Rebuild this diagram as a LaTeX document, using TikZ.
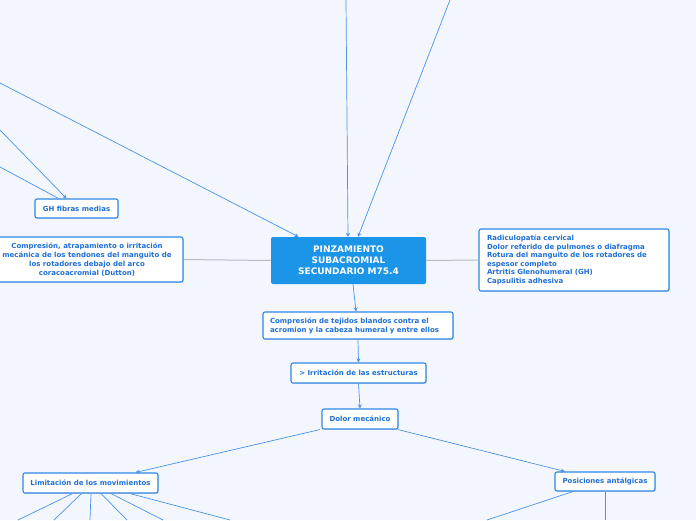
\documentclass[tikz,border=0pt]{standalone}
\usepackage{fontspec}
\setmainfont{DejaVu Sans}
\usetikzlibrary{arrows.meta,shadows}
\definecolor{bg}{HTML}{F3F6FD}
\definecolor{txt}{HTML}{1E6FD6}
\definecolor{bord}{HTML}{2E86E4}
\definecolor{conn}{HTML}{4A93E8}
\definecolor{gline}{HTML}{B4BCC6}
\definecolor{cfill}{HTML}{1B95E8}
\tikzset{
  topic/.style={draw=bord, line width=1.1pt, fill=white, rounded corners=2pt,
    font=\bfseries\fontsize{7}{9}\selectfont, text=txt, inner sep=0pt,
    drop shadow={shadow xshift=0.6pt, shadow yshift=-0.8pt, opacity=0.25, fill=gray}},
  central/.style={fill=cfill, rounded corners=2pt, text=white, inner sep=0pt,
    font=\bfseries\fontsize{9}{11}\selectfont, align=center},
  conn/.style={draw=conn, line width=0.7pt},
  arr/.style={conn, -{Stealth[length=4pt,width=4pt]}},
  gl/.style={draw=gline, line width=1pt}
}
\begin{document}
\begin{tikzpicture}[x=1pt,y=-1pt]
\fill[bg] (0,0) rectangle (696,520);
\useasboundingbox (0,0) rectangle (696,520);
\clip (0,0) rectangle (696,520);

% nodes
\node[central, minimum width=155pt, minimum height=47pt] (c) at (348.5,260.5)
  {PINZAMIENTO\\SUBACROMIAL\\SECUNDARIO M75.4};
\node[topic, minimum width=192pt, minimum height=45pt, align=center] (l) at (87,259.5)
  {Compresión, atrapamiento o irritación\\mecánica de los tendones del manguito de\\los rotadores debajo del arco\\coracoacromial (Dutton)};
\node[topic, minimum width=83pt, minimum height=19pt] (gh) at (76.5,208.5) {GH fibras medias};
\node[topic, minimum width=190pt, minimum height=62pt, text width=174pt, align=left, font=\bfseries\fontsize{7}{8.6}\selectfont] (r) at (574,260)
  {Radiculopatía cervical\\Dolor referido de pulmones o diafragma\\Rotura del manguito de los rotadores de\\espesor completo\\Artritis Glenohumeral (GH)\\Capsulitis adhesiva};
\node[topic, minimum width=190pt, minimum height=27pt, text width=176pt, align=left] (ct) at (358,325.5)
  {Compresión de tejidos blandos contra el\\acromion y la cabeza humeral y entre ellos};
\node[topic, minimum width=135pt, minimum height=20pt] (irr) at (358.5,373) {> Irritación de las estructuras};
\node[topic, minimum width=76pt, minimum height=20pt] (dm) at (360,419) {Dolor mecánico};
\node[topic, minimum width=135pt, minimum height=20pt] (lim) at (90.5,483) {Limitación de los movimientos};
\node[topic, minimum width=100pt, minimum height=19pt] (pos) at (605,481.5) {Posiciones antálgicas};

% free ends
\coordinate (t1) at (346,0);
\coordinate (t2) at (450,0);
\coordinate (t3) at (0,83);
\coordinate (t4) at (0,130);
\coordinate (t5) at (0,167);
\coordinate (b1) at (18,520);
\coordinate (b2) at (54,520);
\coordinate (b3) at (90,520);
\coordinate (b4) at (127,520);
\coordinate (b5) at (163,520);
\coordinate (b6) at (230,520);
\coordinate (b7) at (487,520);
\coordinate (b8) at (605,520);

% connectors
\draw[arr] (t1) -- ([xshift=-0.5pt]c.north);
\draw[arr] (t2) -- ([xshift=9.5pt]c.north);
\draw[arr] (t3) -- ([xshift=-50pt]c.north);
\draw[arr] (t4) -- ([xshift=-10pt]gh.north);
\draw[conn] (t5) -- ([xshift=-18pt]gh.north);
\draw[gl] (l.east) -- (c.west);
\draw[gl] (c.east) -- (r.west);
\draw[arr] ([xshift=4.5pt]c.south) -- ([xshift=-2pt]ct.north);
\draw[arr] (ct.south) -- (irr.north);
\draw[arr] (irr.south) -- (dm.north);
\draw[arr] ([xshift=-40pt]dm.south) -- ([xshift=45pt]lim.north);
\draw[arr] ([xshift=38pt]dm.south) -- ([xshift=-40pt]pos.north);
\draw[conn] ([xshift=-18pt]lim.south) -- (b1);
\draw[conn] ([xshift=-9pt]lim.south) -- (b2);
\draw[conn] ([xshift=0.5pt]lim.south) -- (b3);
\draw[conn] ([xshift=10.5pt]lim.south) -- (b4);
\draw[conn] ([xshift=20.5pt]lim.south) -- (b5);
\draw[conn] ([xshift=39.5pt]lim.south) -- (b6);
\draw[conn] ([xshift=-32pt]pos.south) -- (b7);
\draw[conn] (pos.south) -- (b8);
\end{tikzpicture}
\end{document}
